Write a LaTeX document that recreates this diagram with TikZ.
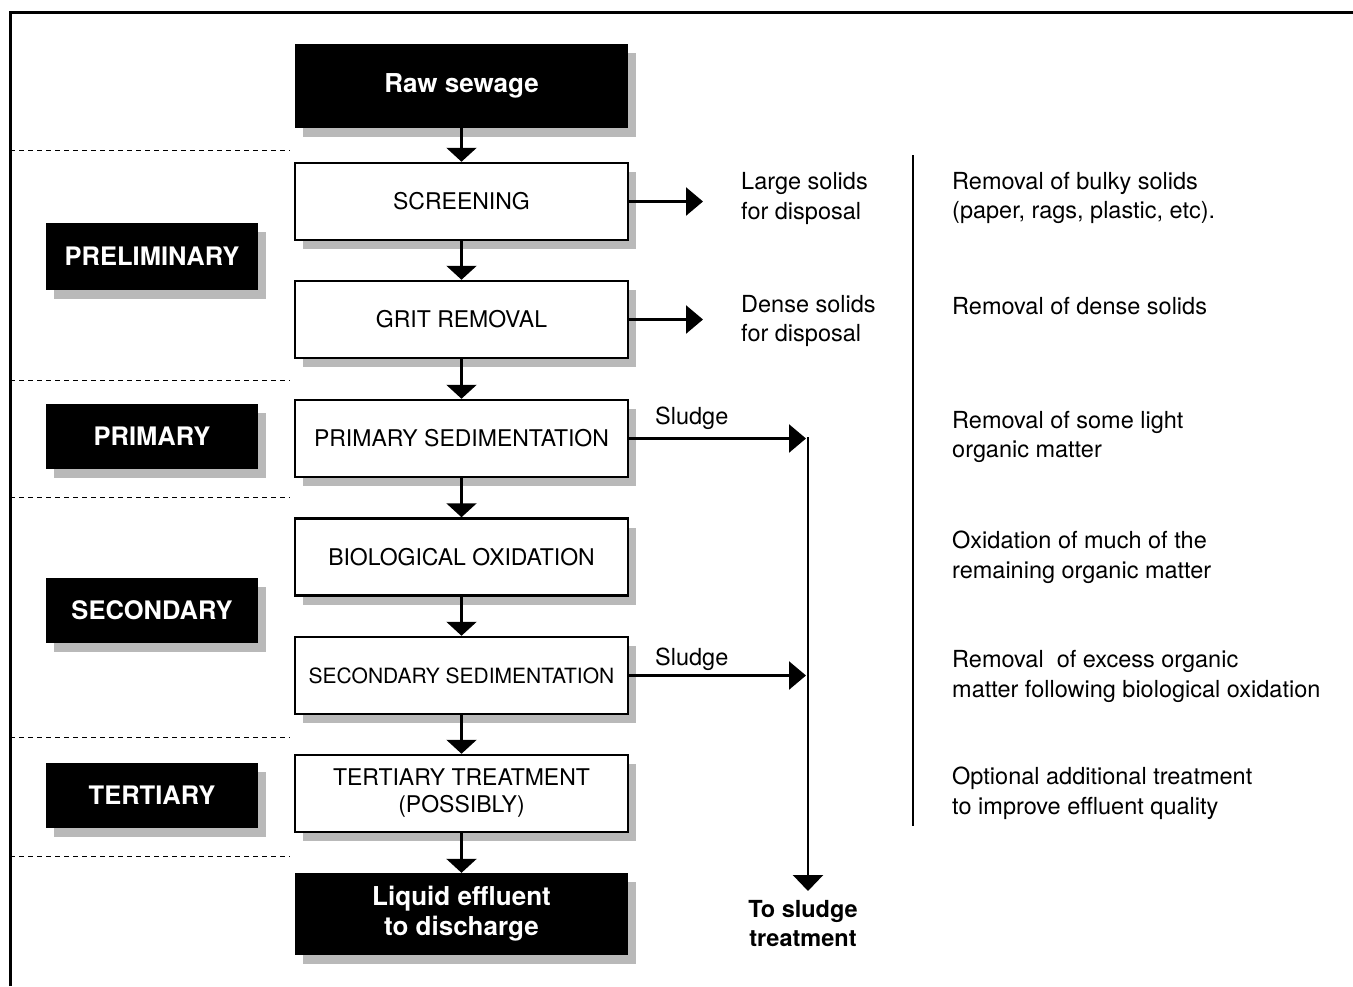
\documentclass[tikz,border=0pt]{standalone}
\usepackage{fontspec}
\setmainfont{TeX Gyre Heros}
\usetikzlibrary{arrows.meta,shadows}

\begin{document}
\begin{tikzpicture}[x=1pt,y=-1pt,
  dropgray/.style={drop shadow={shadow xshift=8pt,shadow yshift=-9pt,fill=gray!55,opacity=1}},
  stage/.style={draw,line width=2.5pt,fill=white,dropgray,minimum width=333pt,minimum height=77pt,align=center,font=\fontsize{23}{27}\selectfont},
  endbox/.style={fill=black,text=white,dropgray,minimum width=333pt,minimum height=84pt,align=center,font=\fontsize{26}{30}\selectfont\bfseries},
  phase/.style={fill=black,text=white,dropgray,minimum width=212pt,minimum height=65pt,font=\fontsize{25.5}{30}\selectfont\bfseries},
  note/.style={anchor=west,align=left,inner sep=0pt,font=\fontsize{23.5}{29.5}\selectfont},
  flow/.style={line width=2.5pt,-{Triangle[length=14pt,width=30pt]}},
  side/.style={line width=2.5pt,-{Triangle[length=17pt,width=28pt]}},
  sep/.style={line width=1pt,dash pattern=on 5pt off 4pt}]
  \useasboundingbox (0,0) rectangle (1353,986);

  % frame and dividers
  \draw[line width=3pt] (10,986) -- (10,12) -- (1353,12);
  \foreach \y in {150,380,497,737,856}
    \draw[sep] (10,\y) -- (290,\y);
  \draw[line width=2.5pt] (913,155) -- (913,826);

  % treatment stages
  \node[endbox] (raw) at (461.5,86) {Raw sewage};
  \node[stage] (screen) at (461.5,201.5) {SCREENING};
  \node[stage] (grit) at (461.5,319.5) {GRIT REMOVAL};
  \node[stage] (prim) at (461.5,438.5) {PRIMARY SEDIMENTATION};
  \node[stage] (bio) at (461.5,557) {BIOLOGICAL OXIDATION};
  \node[stage,font=\fontsize{21}{27}\selectfont] (sec) at (461.5,675.5) {SECONDARY SEDIMENTATION};
  \node[stage] (tert) at (461.5,793.5) {TERTIARY TREATMENT\\(POSSIBLY)};
  \node[endbox,minimum height=82pt] (liquid) at (461.5,914) {Liquid effluent\\to discharge};

  \foreach \a/\b in {raw/screen,screen/grit,grit/prim,prim/bio,bio/sec,sec/tert,tert/liquid}
    \draw[flow] (\a) -- (\b);

  % phases
  \node[phase,minimum height=67pt] (prelim) at (152,256.5) {PRELIMINARY};
  \node[phase] (primary) at (152,436) {PRIMARY};
  \node[phase] (second) at (152,610) {SECONDARY};
  \node[phase] (tertiary) at (152,795) {TERTIARY};

  % solids and sludge
  \coordinate (largeend) at (703,201.5);
  \coordinate (denseend) at (703,319.5);
  \node[note] (large) at (741,198.5) {Large solids\\for disposal};
  \node[note] (dense) at (741,321) {Dense solids\\for disposal};
  \draw[side] (screen) -- (largeend);
  \draw[side] (grit) -- (denseend);

  \coordinate (sludgea) at (806,438.5);
  \coordinate (sludgeb) at (806,675.5);
  \coordinate (sludgetop) at (808,437);
  \coordinate (sludgeend) at (808,891);
  \node[note] (sla) at (655,418) {Sludge};
  \node[note] (slb) at (655,659) {Sludge};
  \draw[side] (prim) -- (sludgea);
  \draw[side] (sec) -- (sludgeb);
  \draw[side,-{Triangle[length=16pt,width=30pt]}] (sludgetop) -- (sludgeend);
  \node[align=center,inner sep=0pt,font=\fontsize{23.5}{29}\selectfont\bfseries] (tosludge) at (803,924) {To sludge\\treatment};

  % descriptions
  \node[note] (d1) at (952,198) {Removal of bulky solids\\(paper, rags, plastic, etc).};
  \node[note] (d2) at (952,306) {Removal of dense solids};
  \node[note] (d3) at (952,437) {Removal of some light\\organic matter};
  \node[note] (d4) at (952,557.5) {Oxidation of much of the\\remaining organic matter};
  \node[note] (d5) at (952,676.5) {Removal~ of excess organic\\matter following biological oxidation};
  \node[note] (d6) at (952,793.5) {Optional additional treatment\\to improve effluent quality};
\end{tikzpicture}
\end{document}
